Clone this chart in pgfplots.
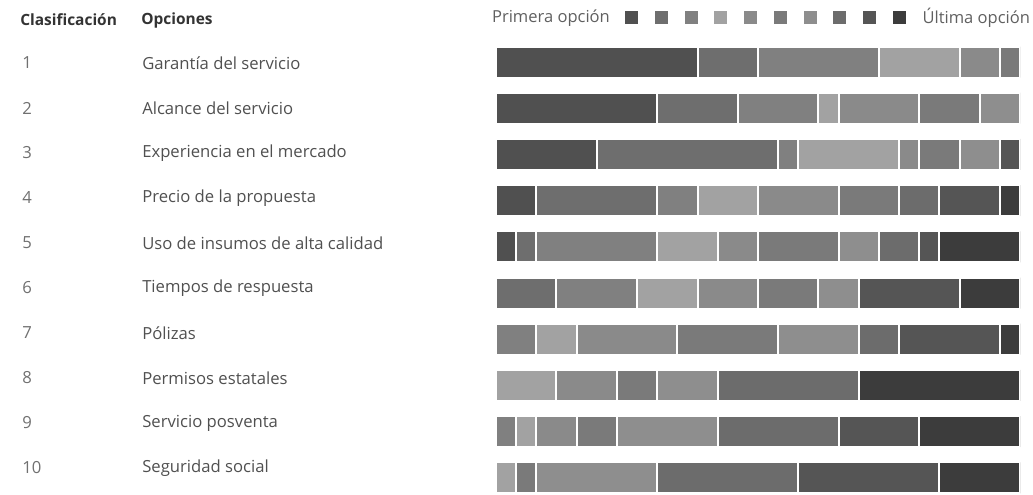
\documentclass[border=0pt]{standalone}
\usepackage{fontspec}
\setmainfont{Open Sans}
\usepackage{pgfplots}
\usepackage{pgfplotstable}
\pgfplotsset{compat=1.18}
\definecolor{c1}{HTML}{505050}
\definecolor{c2}{HTML}{6E6E6E}
\definecolor{c3}{HTML}{808080}
\definecolor{c4}{HTML}{A2A2A2}
\definecolor{c5}{HTML}{8A8A8A}
\definecolor{c6}{HTML}{7A7A7A}
\definecolor{c7}{HTML}{8E8E8E}
\definecolor{c8}{HTML}{6C6C6C}
\definecolor{c9}{HTML}{555555}
\definecolor{c10}{HTML}{3C3C3C}
\definecolor{hdr}{HTML}{333333}
\definecolor{lbl}{HTML}{505050}
\definecolor{num}{HTML}{707070}
\definecolor{leg}{HTML}{606060}

% rows: option, counts for rank 1 ... rank 10 (26 respondents)
\pgfplotstableread{
row r1 r2 r3 r4 r5 r6 r7 r8 r9 r10
1  10 3 6 4 2 1 0 0 0 0
2  8  4 4 1 4 3 2 0 0 0
3  5  9 1 5 1 2 2 0 1 0
4  2  6 2 3 4 3 0 2 3 1
5  1  1 6 3 2 4 2 2 1 4
6  0  3 4 3 3 3 2 0 5 3
7  0  0 2 2 5 5 4 2 5 1
8  0  0 0 3 3 2 3 7 0 8
9  0  0 1 1 2 2 5 6 4 5
10 0  0 0 1 0 1 6 7 7 4
}\datatable

\begin{document}
\begin{tikzpicture}[x=0.75pt,y=-0.75pt]
\useasboundingbox (0,0) rectangle (1033,494);
\coordinate (A) at (496,38.9);
\begin{axis}[
  at={(A)}, anchor=north west,
  scale only axis, width=393pt, height=346.5pt,
  xmin=0, xmax=26, ymin=0.5, ymax=10.5, y dir=reverse,
  hide axis, xbar stacked, bar width=23.25pt,
  every axis plot/.append style={draw=white, line width=1.5pt},
  legend image code/.code={\path[#1,draw=none,fill] (0pt,-4.875pt) rectangle (9.75pt,4.875pt);},
  legend columns=12,
  legend style={at={(1.0191,1.0474)}, anchor=east, draw=none, fill=none,
    inner sep=0pt, outer sep=0pt, text=leg,
    font=\fontsize{12.4}{13}\selectfont,
    nodes={inner sep=0pt},
    /tikz/column sep=0pt,
    /tikz/every even column/.style={column sep=11.55pt}},
]
\addlegendimage{empty legend}\addlegendentry{Primera opción}
\addplot[fill=c1] table[x=r1,y=row]{\datatable};\addlegendentry{}
\addplot[fill=c2] table[x=r2,y=row]{\datatable};\addlegendentry{}
\addplot[fill=c3] table[x=r3,y=row]{\datatable};\addlegendentry{}
\addplot[fill=c4] table[x=r4,y=row]{\datatable};\addlegendentry{}
\addplot[fill=c5] table[x=r5,y=row]{\datatable};\addlegendentry{}
\addplot[fill=c6] table[x=r6,y=row]{\datatable};\addlegendentry{}
\addplot[fill=c7] table[x=r7,y=row]{\datatable};\addlegendentry{}
\addplot[fill=c8] table[x=r8,y=row]{\datatable};\addlegendentry{}
\addplot[fill=c9] table[x=r9,y=row]{\datatable};\addlegendentry{}
\addplot[fill=c10] table[x=r10,y=row]{\datatable};\addlegendentry{}
\addlegendimage{empty legend}\addlegendentry{Última opción}
\end{axis}
\begin{scope}[every node/.style={anchor=west, inner sep=0pt}]
\node[font=\bfseries\fontsize{11.6}{13}\selectfont, text=hdr] at (20,20) {Clasificación};
\node[font=\bfseries\fontsize{11.6}{13}\selectfont, text=hdr] at (141,20) {Opciones};
\foreach \n/\t [count=\i from 0] in {1/Garantía del servicio,2/Alcance del servicio,3/Experiencia en el mercado,4/Precio de la propuesta,5/Uso de insumos de alta calidad,6/Tiempos de respuesta,7/Pólizas,8/Permisos estatales,9/Servicio posventa,10/Seguridad social}{
  \node[font=\fontsize{12.5}{14}\selectfont, text=num] at (22,63+45*\i) {\n};
  \node[font=\fontsize{12.5}{14}\selectfont, text=lbl] at (142,63+45*\i) {\t};
}
\end{scope}
\end{tikzpicture}
\end{document}
